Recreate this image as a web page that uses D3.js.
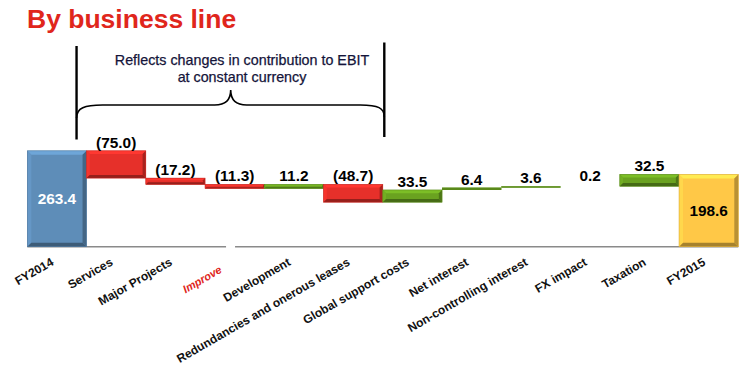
<!DOCTYPE html>
<html><head><meta charset="utf-8">
<script src="https://cdn.jsdelivr.net/npm/d3@7"></script>
<style>
html,body{margin:0;padding:0;background:#fff;}
svg{display:block;font-family:Arial,"Liberation Sans",sans-serif;}
</style></head>
<body>
<svg id="chart" width="755" height="371"></svg>
<script>
// ---- data ----
const categories = ["FY2014","Services","Major Projects","Improve","Development",
  "Redundancies and onerous leases","Global support costs","Net interest",
  "Non-controlling interest","FX impact","Taxation","FY2015"];
const values = [263.4, -75.0, -17.2, -11.3, 11.2, -48.7, 33.5, 6.4, 3.6, 0.2, 32.5, 198.6];
const kinds = ["total","delta","delta","delta","delta","delta","delta","delta","delta","delta","delta","total"];
const titleText = "By business line";
const noteLines = ["Reflects changes in contribution to EBIT", "at constant currency"];

// ---- layout ----
const svg = d3.select("#chart");
const x = d3.scaleBand().domain(categories).range([27.3, 738.3]).padding(0);
const y = d3.scaleLinear().domain([0, 300]).range([246.7, 137.5]);

const colors = {total0:"#5E8DB8", total1:"#FFC847", neg:"#E6302A", pos:"#6AA220"};

// compute waterfall segments
let run = 0;
const bars = categories.map((c,i)=>{
  let lo, hi, col;
  if (kinds[i]==="total"){ lo=0; hi=values[i]; run=values[i]; col = i===0?colors.total0:colors.total1; }
  else { const s=run; run=run+values[i]; lo=Math.min(s,run); hi=Math.max(s,run); col = values[i]<0?colors.neg:colors.pos; }
  return {cat:c, v:values[i], kind:kinds[i], lo, hi, col};
});

// title
svg.append("text").attr("x",27).attr("y",27.5)
  .attr("fill","#E0261C").attr("font-size",26.5).attr("font-weight","bold")
  .text(titleText);

// bracket annotation
const bL = x("Services") - 10, bR = x("Global support costs") + 1.5;
svg.append("line").attr("x1",bL).attr("x2",bL).attr("y1",46).attr("y2",139.5)
  .attr("stroke","#000").attr("stroke-width",2.4);
svg.append("line").attr("x1",bR).attr("x2",bR).attr("y1",42.5).attr("y2",137)
  .attr("stroke","#000").attr("stroke-width",2.4);
const tipX = 230.7;
const bp = d3.path();
bp.moveTo(bL,118); bp.bezierCurveTo(bL,108,bL+8,105,bL+26,105);
bp.lineTo(tipX-16,105); bp.bezierCurveTo(tipX-6,105,tipX,100,tipX,90);
bp.bezierCurveTo(tipX,100,tipX+6,105,tipX+16,105);
bp.lineTo(bR-24,105); bp.bezierCurveTo(bR-6,105,bR,108,bR,117);
svg.append("path").attr("d",bp.toString()).attr("fill","none")
  .attr("stroke","#000").attr("stroke-width",1.6);
svg.append("g").selectAll("text").data(noteLines).join("text")
  .attr("x",242).attr("y",(d,i)=>64.5+i*17).attr("text-anchor","middle")
  .attr("font-size",14.3).attr("fill","#14143a").attr("stroke","#14143a").attr("stroke-width",0.25)
  .text(d=>d);

// axis baseline
svg.append("line").attr("x1",x.range()[0]).attr("x2",x.range()[1])
  .attr("y1",y(0)).attr("y2",y(0)).attr("stroke","#8a8a8a").attr("stroke-width",1.5);
svg.append("rect").attr("x",x("Improve")+21).attr("y",y(0)-2).attr("width",9).attr("height",4).attr("fill","#fff");

// bars with bevel
const gb = svg.append("g");
bars.forEach(b=>{
  const x0 = x(b.cat), x1 = x0 + x.bandwidth();
  const y0 = y(b.hi), y1 = y(b.lo);
  const h = y1 - y0, w = x1 - x0;
  if (h <= 0.2) return;
  const base = d3.color(b.col);
  gb.append("rect").attr("x",x0).attr("y",y0).attr("width",w).attr("height",h).attr("fill",base);
  const bv = Math.min(b.kind==="total"?4:3.2, h/3);
  if (h < 2.6) {
    gb.append("rect").attr("x",x0).attr("y",y0).attr("width",w).attr("height",h)
      .attr("fill",base.darker(0.5));
    return;
  }
  const poly = (pts,fill)=>gb.append("polygon").attr("points",pts.map(p=>p.join(",")).join(" ")).attr("fill",fill);
  poly([[x0,y0],[x1,y0],[x1-bv,y0+bv],[x0+bv,y0+bv]], base.brighter(0.45));
  poly([[x0,y0],[x0+bv,y0+bv],[x0+bv,y1-bv],[x0,y1]], base.brighter(0.2));
  poly([[x1,y0],[x1,y1],[x1-bv,y1-bv],[x1-bv,y0+bv]], base.darker(0.9));
  poly([[x0,y1],[x1,y1],[x1-bv,y1-bv],[x0+bv,y1-bv]], base.darker(1.2));
  gb.append("rect").attr("x",x0).attr("y",y0).attr("width",w).attr("height",h)
    .attr("fill","none").attr("stroke",base.darker(0.4)).attr("stroke-width",0.6);
});

// value labels
const fmt = v => v < 0 ? "(" + d3.format(".1f")(-v) + ")" : d3.format(".1f")(v);
svg.append("g").selectAll("text").data(bars).join("text")
  .attr("x", d => x(d.cat) + x.bandwidth()/2)
  .attr("y", d => d.kind==="total" ? (y(d.hi)+y(0))/2 + 5.5 : y(d.hi) - (d.cat==="FX impact"?5:3))
  .attr("text-anchor","middle").attr("font-weight","bold").attr("font-size",15.4)
  .attr("fill", (d,i) => (d.kind==="total" && i===0) ? "#fff" : "#000")
  .text(d => fmt(d.v));

// category labels
svg.append("g").selectAll("text").data(categories).join("text")
  .attr("transform", d => {
    const cx = x(d) + x.bandwidth()/2;
    return d==="Improve" ? `translate(${cx-12},272) rotate(-30)` : `translate(${cx-2.5},264.5) rotate(-30)`;
  })
  .attr("text-anchor","end").attr("font-weight","bold")
  .attr("font-size", d => d==="Improve" ? 11 : 12)
  .attr("font-style", d => d==="Improve" ? "italic" : "normal")
  .attr("fill", d => d==="Improve" ? "#E0261C" : "#111")
  .text(d=>d);
</script>
</body></html>
